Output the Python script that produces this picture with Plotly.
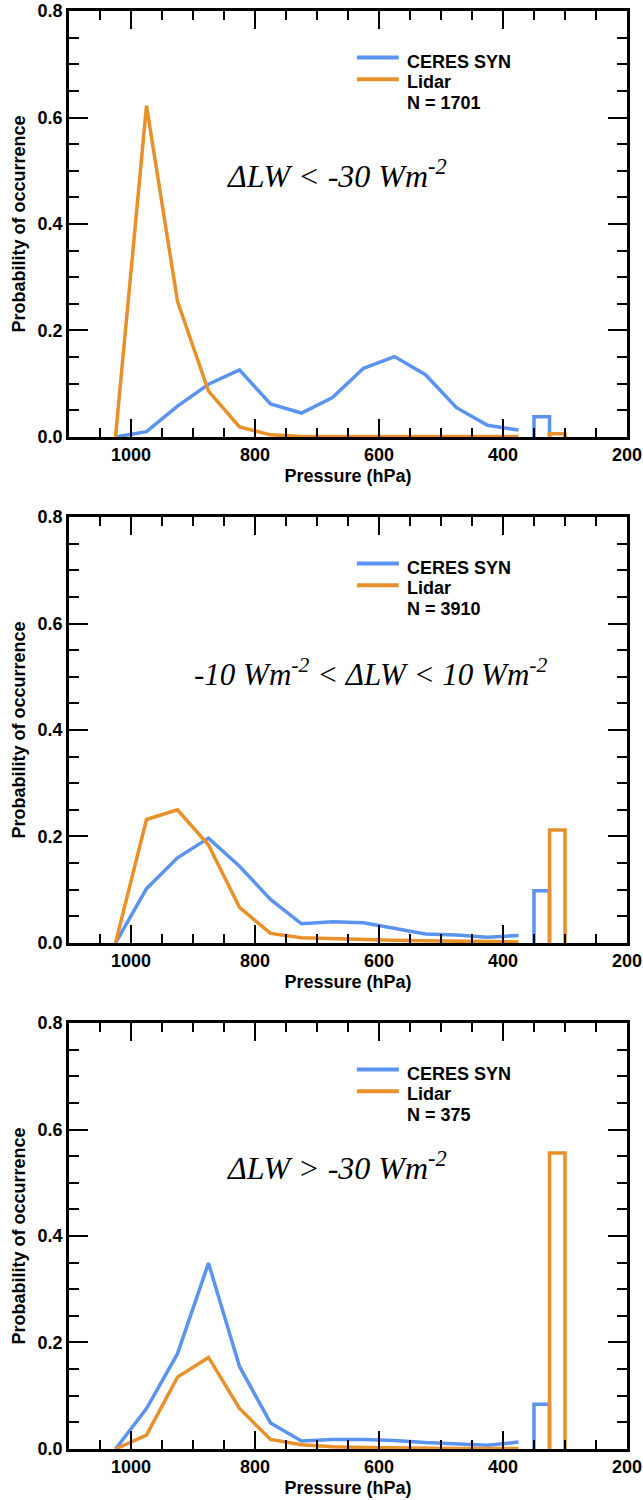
import plotly.graph_objects as go
from plotly.subplots import make_subplots

# Cloud-top pressure bin centres (hPa)
pressure = [1025, 975, 925, 875, 825, 775, 725, 675, 625, 575, 525, 475, 425, 375]

# Probability of occurrence for each LW-difference class
ceres_lt30 = [0.0, 0.010, 0.058, 0.099, 0.126, 0.062, 0.045, 0.074, 0.129, 0.151, 0.117, 0.055, 0.022, 0.013]
lidar_lt30 = [0.0, 0.622, 0.255, 0.086, 0.019, 0.004, 0.001, 0.001, 0.001, 0.001, 0.001, 0.001, 0.001, 0.001]

ceres_mid = [0.0, 0.102, 0.160, 0.197, 0.144, 0.082, 0.036, 0.040, 0.038, 0.027, 0.017, 0.015, 0.011, 0.014]
lidar_mid = [0.0, 0.232, 0.250, 0.184, 0.067, 0.018, 0.010, 0.008, 0.006, 0.005, 0.004, 0.003, 0.003, 0.002]

ceres_gt30 = [0.0, 0.076, 0.179, 0.349, 0.155, 0.049, 0.015, 0.018, 0.018, 0.016, 0.012, 0.010, 0.007, 0.013]
lidar_gt30 = [0.0, 0.026, 0.135, 0.172, 0.076, 0.018, 0.008, 0.004, 0.003, 0.002, 0.002, 0.001, 0.001, 0.001]

# Separate high-cloud bins (edges in hPa) and their probabilities per panel
ceres_bin = [350, 325]
lidar_bin = [325, 300]
ceres_high = [0.038, 0.098, 0.084]
lidar_high = [0.006, 0.212, 0.556]

sample_counts = [1701, 3910, 375]
class_labels = [
    "<i>ΔLW &lt; -30 Wm<sup>-2</sup></i>",
    "<i>-10 Wm<sup>-2</sup> &lt; ΔLW &lt; 10 Wm<sup>-2</sup></i>",
    "<i>ΔLW &gt; -30 Wm<sup>-2</sup></i>",
]

ceres_series = [ceres_lt30, ceres_mid, ceres_gt30]
lidar_series = [lidar_lt30, lidar_mid, lidar_gt30]

BLUE = "#5A94F0"
ORANGE = "#E8902A"
SANS = "Liberation Sans, Arial, sans-serif"
SERIF = "Liberation Serif, Times New Roman, serif"
LW = 3.5
BOLD = dict(family=SANS, size=18, weight="bold", color="black")

label_pos = [(0.480, 0.617), (0.541, 0.636), (0.480, 0.665)]
label_size = [32, 31, 32]
domains = [[0.70376, 1.0], [0.35188, 0.64812], [0.0, 0.29624]]

fig = make_subplots(rows=3, cols=1)


def bin_outline(edges, h):
    return [edges[0], edges[0], edges[1], edges[1]], [0, h, h, 0]


for i in range(3):
    row = i + 1
    fig.add_trace(go.Scatter(x=pressure, y=ceres_series[i], mode="lines",
                             line=dict(color=BLUE, width=LW), showlegend=False),
                  row=row, col=1)
    fig.add_trace(go.Scatter(x=pressure, y=lidar_series[i], mode="lines",
                             line=dict(color=ORANGE, width=LW), showlegend=False),
                  row=row, col=1)
    bx, by = bin_outline(ceres_bin, ceres_high[i])
    fig.add_trace(go.Scatter(x=bx, y=by, mode="lines",
                             line=dict(color=BLUE, width=LW), showlegend=False),
                  row=row, col=1)
    bx, by = bin_outline(lidar_bin, lidar_high[i])
    fig.add_trace(go.Scatter(x=bx, y=by, mode="lines",
                             line=dict(color=ORANGE, width=LW), showlegend=False),
                  row=row, col=1)

    sfx = "" if i == 0 else str(row)
    xref = f"x{sfx} domain"
    yref = f"y{sfx} domain"

    # legend keys
    fig.add_shape(type="line", xref=xref, yref=yref, x0=0.516, x1=0.591,
                  y0=0.891, y1=0.891, line=dict(color=BLUE, width=4))
    fig.add_shape(type="line", xref=xref, yref=yref, x0=0.516, x1=0.591,
                  y0=0.840, y1=0.840, line=dict(color=ORANGE, width=4))
    for txt, yy in [("CERES SYN", 0.880), ("Lidar", 0.833), (f"N = {sample_counts[i]}", 0.783)]:
        fig.add_annotation(xref=xref, yref=yref, x=0.602, y=yy, text=txt,
                           showarrow=False, xanchor="left", yanchor="middle",
                           font=BOLD)

    lx, ly = label_pos[i]
    fig.add_annotation(xref=xref, yref=yref, x=lx, y=ly, text=class_labels[i],
                       showarrow=False, xanchor="center", yanchor="middle",
                       font=dict(family=SERIF, size=label_size[i], color="black"))

    fig.update_xaxes(
        row=row, col=1, range=[1100, 200], tick0=0, dtick=200,
        ticks="inside", ticklen=18, tickwidth=2, tickcolor="black",
        showline=True, linewidth=2.5, linecolor="black", mirror="ticks",
        layer="above traces", showgrid=False, zeroline=False, automargin=False,
        minor=dict(tick0=0, dtick=50, ticks="inside", ticklen=9, tickwidth=2,
                   tickcolor="black", showgrid=False),
        tickfont=BOLD,
        title=dict(text="Pressure (hPa)", standoff=6, font=BOLD),
    )
    fig.update_yaxes(
        row=row, col=1, range=[0, 0.8], domain=domains[i],
        tick0=0, dtick=0.2, tickformat=".1f",
        ticks="inside", ticklen=19, tickwidth=2, tickcolor="black",
        showline=True, linewidth=2.5, linecolor="black", mirror="ticks",
        layer="above traces", showgrid=False, zeroline=False, automargin=False,
        minor=dict(tick0=0, dtick=0.05, ticks="inside", ticklen=10, tickwidth=2,
                   tickcolor="black", showgrid=False),
        tickfont=BOLD,
        title=dict(text="Probability of occurrence", standoff=8, font=BOLD),
    )

fig.update_layout(
    template="none",
    width=643, height=1500,
    margin=dict(l=69, r=16, t=11, b=51),
    paper_bgcolor="white", plot_bgcolor="white",
    showlegend=False,
)

fig.write_html("out.html")
